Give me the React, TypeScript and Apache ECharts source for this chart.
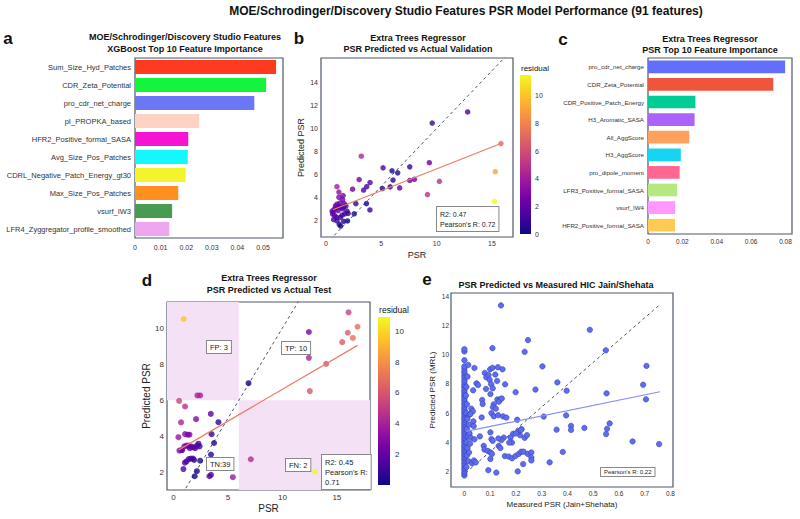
import React, { useEffect, useRef } from "react";
import * as echarts from "echarts";

// ---------- Panel a: XGBoost feature importance ----------
const featA = [
  "Sum_Size_Hyd_Patches",
  "CDR_Zeta_Potential",
  "pro_cdr_net_charge",
  "pI_PROPKA_based",
  "HFR2_Positive_formal_SASA",
  "Avg_Size_Pos_Patches",
  "CDRL_Negative_Patch_Energy_gt30",
  "Max_Size_Pos_Patches",
  "vsurf_IW3",
  "LFR4_Zyggregator_profile_smoothed",
];
const impA = [0.0551, 0.0512, 0.0466, 0.0251, 0.0208, 0.0206, 0.0198, 0.0169, 0.0145, 0.0134];
const colorsA = ["#ff3a1f", "#12f53c", "#6a78f8", "#ffd3c2", "#f514d2", "#15f7ff", "#f3f52c", "#ff8f1f", "#4a9b52", "#eea6ee"];
const ticksA = [0, 0.01, 0.02, 0.03, 0.04, 0.05];

// ---------- Panel c: Extra Trees feature importance ----------
const featC = [
  "pro_cdr_net_charge",
  "CDR_Zeta_Potential",
  "CDR_Positive_Patch_Energy",
  "H3_Aromatic_SASA",
  "All_AggScore",
  "H3_AggScore",
  "pro_dipole_moment",
  "LFR3_Positive_formal_SASA",
  "vsurf_IW4",
  "HFR2_Positive_formal_SASA",
];
const impC = [0.0798, 0.0729, 0.0276, 0.0271, 0.024, 0.0191, 0.0184, 0.017, 0.0158, 0.0157];
const colorsC = ["#636efa", "#ef553b", "#00cc96", "#ab63fa", "#ffa15a", "#19d3f3", "#ff6692", "#b6e880", "#ff97ff", "#fecb52"];
const ticksC = [0, 0.02, 0.04, 0.06, 0.08];

// ---------- Panel b: validation predicted vs actual ----------
const actualB = [
  12.8, 9.6, 15.81, 3.19, 5.16, 7.57, 5.97, 6.48, 9.34, 15.3, 3.0, 6.06, 7.57, 7.99, 10.25, 3.98, 3.68, 3.4, 2.4, 5.1,
  5.8, 6.66, 9.17, 15.22, 0.99, 1.17, 1.17, 1.55, 1.5, 1.65, 1.0, 2.7, 3.66, 3.97, 2.55, 2.0, 1.7, 1.95, 1.6, 1.2,
  1.32, 0.68, 0.6, 0.95, 1.3, 0.55, 0.75, 0.9, 1.05, 1.2, 1.35, 1.5, 1.8, 1.1, 0.8, 1.45, 0.65, 1.25, 0.85, 1.6,
  1.9, 1.0,
];
const predB = [
  11.43, 10.47, 8.7, 7.6, 6.6, 6.68, 6.34, 6.16, 7.04, 6.26, 5.58, 5.54, 5.5, 5.6, 5.43, 5.32, 4.96, 4.67, 4.75, 4.8,
  4.95, 4.86, 4.28, 3.7, 4.96, 4.5, 4.05, 4.2, 3.85, 3.5, 3.45, 3.5, 3.5, 2.95, 2.62, 2.65, 2.62, 2.0, 1.97, 1.7,
  1.56, 2.12, 2.6, 2.3, 2.3, 2.85, 3.0, 3.1, 3.2, 3.25, 3.15, 3.05, 3.3, 2.9, 2.45, 2.5, 2.75, 3.55, 3.3, 3.2,
  2.85, 2.0,
];
const trendB = [[0.63, 2.97], [15.81, 8.7]];
const diagB = [[0, 0], [17, 17]];
const ticksBx = [0, 5, 10, 15];
const ticksBy = [2, 4, 6, 8, 10, 12, 14];
const ticksBar = [0, 2, 4, 6, 8, 10];

// ---------- Panel d: test predicted vs actual ----------
const actualD = [
  0.95, 16.07, 16.9, 16.0, 16.47, 15.49, 12.43, 12.43, 14.02, 12.52, 6.89, 2.45, 2.2, 7.1, 13.0,
  0.52, 1.07, 3.43, 4.13, 2.08, 0.7, 1.07, 1.3, 1.47, 0.46, 3.5, 3.73, 2.3, 2.4, 0.55, 0.8, 1.0, 1.2, 1.4, 1.6,
  1.8, 2.0, 1.5, 3.45, 2.45, 1.4, 1.6, 1.8, 1.2, 1.05, 0.92, 2.15, 1.95, 3.3, 3.45, 5.45, 1.9, 0.75, 2.15,
];
const predD = [
  10.5, 10.87, 10.07, 9.74, 9.45, 9.22, 9.78, 8.35, 8.02, 6.51, 6.95, 6.27, 6.27, 2.74, 2.05,
  5.97, 5.66, 5.25, 4.79, 4.96, 4.78, 4.13, 4.1, 4.1, 3.96, 4.13, 3.64, 3.6, 3.45, 3.22, 3.25, 3.45, 3.5, 3.5, 3.45,
  3.4, 3.35, 3.35, 3.0, 2.66, 2.75, 2.78, 2.78, 2.62, 2.55, 2.2, 2.08, 1.8, 1.8, 1.88, 1.75, 2.7, 3.25, 3.5,
];
const trendD = [[0.49, 3.26], [16.9, 9.04]];
const diagD = [[0, 0], [18, 18]];
const thresholdD = 6;
const ticksDx = [0, 5, 10, 15];
const ticksDy = [2, 4, 6, 8, 10];
const ticksDbar = [2, 4, 6, 8, 10];

// ---------- Panel e: predicted vs measured (Jain/Shehata) ----------
const actualE = [
  // column at measured = 0
  0, 0, 0, 0, 0, 0, 0, 0, 0, 0, 0, 0, 0, 0, 0, 0, 0, 0, 0, 0, 0, 0, 0, 0, 0, 0, 0, 0, 0, 0,
  0, 0, 0, 0, 0, 0, 0, 0, 0, 0, 0, 0, 0, 0, 0, 0, 0, 0, 0, 0, 0, 0, 0, 0, 0, 0, 0, 0, 0, 0,
  0.008, 0.01, 0.012, 0.008, 0.015, 0.01, 0.018, 0.012, 0.008, 0.01, 0.006, 0.008, 0.012, 0.015, 0.02, 0.022, 0.02, 0.025, 0.018, 0.016,
  // scattered
  0.142, 0.247, 0.234, 0.109, 0.487, 0.549, 0.303, 0.707, 0.361, 0.694, 0.552, 0.276, 0.199, 0.397, 0.705, 0.308, 0.395, 0.414, 0.414, 0.358,
  0.466, 0.564, 0.554, 0.55, 0.653, 0.756, 0.382, 0.331, 0.207, 0.124, 0.093, 0.228,
  0.039, 0.079, 0.085, 0.094, 0.1, 0.109, 0.13, 0.148, 0.12, 0.098, 0.127, 0.158, 0.047, 0.053, 0.034, 0.084, 0.104, 0.11, 0.101,
  0.128, 0.14, 0.134, 0.145, 0.114, 0.111, 0.069, 0.071, 0.105, 0.114, 0.122, 0.067, 0.131, 0.15, 0.163, 0.027, 0.033, 0.023, 0.035, 0.036,
  0.205, 0.222, 0.216, 0.234, 0.243, 0.189, 0.179, 0.185, 0.174, 0.153, 0.144, 0.132, 0.101, 0.105, 0.11, 0.06, 0.039, 0.075, 0.078, 0.091,
  0.101, 0.107, 0.133, 0.14, 0.157, 0.172, 0.185, 0.198, 0.211, 0.221, 0.23, 0.246, 0.26, 0.26, 0.26, 0.101, 0.03, 0.037, 0.044, 0.21,
  0.22, 0.2,
];
const predE = [
  1.72, 1.86, 1.98, 2.14, 2.27, 2.43, 2.55, 2.71, 2.84, 2.96, 3.1, 3.21, 3.35, 3.44, 3.59, 3.71, 3.8, 3.96, 4.07, 4.22,
  4.3, 4.45, 4.56, 4.69, 4.81, 4.92, 5.06, 5.17, 5.31, 5.41, 5.56, 5.66, 5.79, 5.93, 6.04, 6.19, 6.31, 6.44, 6.59, 6.7,
  6.86, 6.99, 7.15, 7.27, 7.43, 7.55, 7.71, 7.84, 7.97, 8.13, 8.26, 8.43, 8.57, 8.74, 8.87, 9.06, 9.2, 9.62, 10.22, 10.38,
  2.3, 3.1, 3.6, 4.0, 4.4, 4.9, 5.2, 5.6, 6.0, 6.6, 7.2, 7.8, 8.5, 9.3, 4.6, 3.9, 5.9, 4.3, 3.3, 2.7,
  13.38, 11.0, 10.2, 10.45, 11.71, 10.3, 9.2, 9.23, 8.1, 7.94, 7.35, 7.61, 7.43, 7.53, 6.94, 5.76, 5.84, 5.12, 4.84, 4.86,
  4.98, 5.29, 4.92, 4.56, 4.05, 3.87, 3.33, 2.62, 2.0, 1.92, 2.08, 2.5,
  9.09, 8.75, 8.45, 8.6, 9.0, 9.1, 9.14, 9.0, 8.64, 8.28, 8.2, 7.97, 8.04, 7.92, 7.56, 7.65, 7.98, 7.7, 7.3,
  6.93, 6.95, 6.78, 7.0, 6.6, 6.4, 6.9, 6.62, 6.0, 5.78, 6.3, 5.7, 5.85, 5.77, 5.69, 6.3, 6.12, 5.93, 5.43, 5.1,
  5.54, 4.9, 4.48, 4.3, 4.48, 4.58, 4.33, 3.98, 3.98, 4.32, 4.15, 4.26, 4.68, 4.22, 4.1, 4.4, 4.2, 3.75, 3.5, 3.4,
  3.3, 3.2, 3.75, 3.6, 3.05, 3.02, 2.9, 3.05, 3.2, 3.35, 3.35, 3.2, 3.3, 2.95, 2.75, 2.85, 2.55, 2.75, 2.62, 4.75,
  4.85, 4.6,
];
const trendE = [[0.006, 4.74], [0.759, 7.46]];
const diagE = [[0.005, 1.9], [0.759, 13.43]];
const ticksEx = [0, 0.1, 0.2, 0.3, 0.4, 0.5, 0.6, 0.7, 0.8];
const ticksEy = [2, 4, 6, 8, 10, 12, 14];

const plasma = ["#0d0887", "#46039f", "#7201a8", "#9c179e", "#bd3786", "#d8576b", "#ed7953", "#fb9f3a", "#fdca26", "#f0f921"];

const FONT = '"Liberation Sans", Arial, sans-serif';

function buildOption() {
  const ptsB = actualB.map((x, i) => [x, predB[i], Math.abs(predB[i] - x)]);
  const ptsD = actualD.map((x, i) => [x, predD[i], Math.abs(predD[i] - x)]);
  const ptsE = actualE.map((x, i) => [x, predE[i]]);
  const maxResB = Math.max(...ptsB.map((p) => p[2]));
  const maxResD = Math.max(...ptsD.map((p) => p[2]));

  const frame = { show: true, borderColor: "#4f5968", borderWidth: 1.2, backgroundColor: "transparent" };
  const lbl = (size: number, margin: number, custom?: number[]) => ({
    fontSize: size,
    color: "#333",
    margin,
    fontFamily: FONT,
    ...(custom ? { customValues: custom } : {}),
  });
  const hidden = { axisLine: { show: false }, axisTick: { show: false }, splitLine: { show: false } };
  const grad = () =>
    new echarts.graphic.LinearGradient(0, 1, 0, 0, plasma.map((c, i) => ({ offset: i / (plasma.length - 1), color: c })));

  const dXMin = -0.59, dXMax = 18.04, dYMin = 1.04, dYMax = 11.44;

  const boxStyle = (size: number) => ({
    font: `${size}px ${FONT}`,
    fill: "#222",
    backgroundColor: "#fff",
    borderColor: "#888",
    borderWidth: 1,
    padding: [2, 3],
    align: "left",
    verticalAlign: "top",
  });
  const txt = (text: string, x: number, y: number, font: string, align = "center") => ({
    type: "text",
    x,
    y,
    silent: true,
    style: { text, font, fill: "#111", align, verticalAlign: "middle" },
  });
  const TB = `bold 9px ${FONT}`;
  const LET = `bold 17px ${FONT}`;

  return {
    animation: false,
    backgroundColor: "#fff",
    textStyle: { fontFamily: FONT },
    grid: [
      { left: 135, top: 58, width: 148, height: 180, ...frame },
      { left: 321, top: 58, width: 192, height: 179, ...frame },
      { left: 520, top: 75, width: 11, height: 159, show: false },
      { left: 648, top: 58, width: 144, height: 176, ...frame },
      { left: 167, top: 302, width: 203, height: 188, ...frame },
      { left: 378, top: 317, width: 12, height: 168, show: false },
      { left: 451, top: 293, width: 222, height: 194, ...frame },
    ],
    xAxis: [
      { gridIndex: 0, type: "value", min: 0, max: 0.0578, ...hidden, axisLabel: lbl(7, 6, ticksA) },
      {
        gridIndex: 1, type: "value", min: -0.45, max: 16.9, ...hidden, axisLabel: lbl(7, 3, ticksBx),
        name: "PSR", nameLocation: "middle", nameGap: 13, nameTextStyle: { fontSize: 9, color: "#222" },
      },
      { gridIndex: 2, type: "category", data: ["r"], show: false },
      { gridIndex: 3, type: "value", min: 0, max: 0.0838, ...hidden, axisLabel: lbl(6.5, 4, ticksC) },
      {
        gridIndex: 4, type: "value", min: dXMin, max: dXMax, ...hidden, axisLabel: lbl(8, 3, ticksDx),
        name: "PSR", nameLocation: "middle", nameGap: 13, nameTextStyle: { fontSize: 10, color: "#222" },
      },
      { gridIndex: 5, type: "category", data: ["r"], show: false },
      {
        gridIndex: 6, type: "value", min: -0.052, max: 0.81, ...hidden, axisLabel: lbl(6.5, 3, ticksEx),
        name: "Measured PSR (Jain+Shehata)", nameLocation: "middle", nameGap: 13, nameTextStyle: { fontSize: 8, color: "#222" },
      },
    ],
    yAxis: [
      { gridIndex: 0, type: "category", data: featA, inverse: true, ...hidden, axisLabel: lbl(7.5, 4) },
      {
        gridIndex: 1, type: "value", min: 0.61, max: 16.1, ...hidden, axisLabel: lbl(7, 3, ticksBy),
        name: "Predicted PSR", nameLocation: "middle", nameGap: 16, nameTextStyle: { fontSize: 9, color: "#222" },
      },
      {
        gridIndex: 2, type: "value", min: 0, max: maxResB, position: "right", ...hidden,
        axisLabel: lbl(7, 4, ticksBar),
      },
      { gridIndex: 3, type: "category", data: featC, inverse: true, ...hidden, axisLabel: lbl(6.2, 4) },
      {
        gridIndex: 4, type: "value", min: dYMin, max: dYMax, ...hidden, axisLabel: lbl(8, 3, ticksDy),
        name: "Predicted PSR", nameLocation: "middle", nameGap: 14, nameTextStyle: { fontSize: 10, color: "#222" },
      },
      {
        gridIndex: 5, type: "value", min: 0, max: maxResD, position: "right", ...hidden,
        axisLabel: lbl(8, 5, ticksDbar),
      },
      {
        gridIndex: 6, type: "value", min: 0.93, max: 14.23, ...hidden, axisLabel: lbl(6.5, 2, ticksEy),
        name: "Predicted PSR (MRL)", nameLocation: "middle", nameGap: 15, nameTextStyle: { fontSize: 8, color: "#222" },
      },
    ],
    visualMap: [
      { type: "continuous", show: false, seriesIndex: 2, dimension: 2, min: 0, max: maxResB, inRange: { color: plasma } },
      { type: "continuous", show: false, seriesIndex: 7, dimension: 2, min: 0, max: maxResD, inRange: { color: plasma } },
    ],
    series: [
      {
        type: "bar", xAxisIndex: 0, yAxisIndex: 0, barCategoryGap: "22%",
        data: impA.map((v, i) => ({ value: v, itemStyle: { color: colorsA[i] } })),
      },
      {
        type: "bar", xAxisIndex: 3, yAxisIndex: 3, barCategoryGap: "28%",
        data: impC.map((v, i) => ({ value: v, itemStyle: { color: colorsC[i] } })),
      },
      { type: "scatter", xAxisIndex: 1, yAxisIndex: 1, data: ptsB, symbolSize: 5.5, z: 4 },
      {
        type: "line", xAxisIndex: 1, yAxisIndex: 1, data: diagB, symbol: "none", silent: true, z: 3,
        lineStyle: { color: "#4a5468", width: 1, type: [3, 3] },
      },
      {
        type: "line", xAxisIndex: 1, yAxisIndex: 1, data: trendB, symbol: "none", silent: true, z: 5,
        lineStyle: { color: "#ea7c66", width: 1.2 },
      },
      { type: "bar", xAxisIndex: 2, yAxisIndex: 2, data: [maxResB], barWidth: "100%", itemStyle: { color: grad() }, silent: true },
      {
        type: "line", xAxisIndex: 4, yAxisIndex: 4, data: [], symbol: "none", z: 1, silent: true,
        markArea: {
          silent: true,
          itemStyle: { color: "#f5e1f6", opacity: 1 },
          label: { show: false },
          data: [
            [{ coord: [dXMin, thresholdD] }, { coord: [thresholdD, dYMax] }],
            [{ coord: [thresholdD, dYMin] }, { coord: [dXMax, thresholdD] }],
          ],
        },
      },
      { type: "scatter", xAxisIndex: 4, yAxisIndex: 4, data: ptsD, symbolSize: 6, z: 4 },
      {
        type: "line", xAxisIndex: 4, yAxisIndex: 4, data: diagD, symbol: "none", silent: true, z: 3,
        lineStyle: { color: "#4a5468", width: 1, type: [3, 3] },
      },
      {
        type: "line", xAxisIndex: 4, yAxisIndex: 4, data: trendD, symbol: "none", silent: true, z: 5,
        lineStyle: { color: "#ea7c66", width: 1.2 },
      },
      { type: "bar", xAxisIndex: 5, yAxisIndex: 5, data: [maxResD], barWidth: "100%", itemStyle: { color: grad() }, silent: true },
      {
        type: "scatter", xAxisIndex: 6, yAxisIndex: 6, data: ptsE, symbolSize: 5.5, z: 4,
        itemStyle: { color: "#5e6cf0", borderColor: "#2f3ba8", borderWidth: 0.5, opacity: 1 },
      },
      {
        type: "line", xAxisIndex: 6, yAxisIndex: 6, data: diagE, symbol: "none", silent: true, z: 3,
        lineStyle: { color: "#4a5468", width: 1, type: [3, 3] },
      },
      {
        type: "line", xAxisIndex: 6, yAxisIndex: 6, data: trendE, symbol: "none", silent: true, z: 5,
        lineStyle: { color: "#8090f5", width: 1.2 },
      },
    ],
    graphic: [
      txt("MOE/Schrodinger/Discovery Studio Features PSR Model Performance (91 features)", 466, 11, `bold 12px ${FONT}`),
      txt("a", 8, 38, LET),
      txt("b", 299, 38, LET),
      txt("c", 563, 39, LET),
      txt("d", 147, 280, LET),
      txt("e", 427, 279, LET),
      txt("MOE/Schrodinger/Discovery Studio Features", 185, 37, TB),
      txt("XGBoost Top 10 Feature Importance", 185, 49, TB),
      txt("Extra Trees Regressor", 418, 38, TB),
      txt("PSR Predicted vs Actual Validation", 418, 49, TB),
      txt("Extra Trees Regressor", 710, 39, TB),
      txt("PSR Top 10 Feature Importance", 710, 50, TB),
      txt("Extra Trees Regressor", 269, 278, TB),
      txt("PSR Predicted vs Actual Test", 269, 290, TB),
      txt("PSR Predicted vs Measured HIC Jain/Shehata", 556, 285, TB),
      txt("residual", 535, 68, `8px ${FONT}`),
      txt("residual", 394, 310, `8.5px ${FONT}`),
      { type: "text", x: 437, y: 207, silent: true, z: 10, style: { text: "R2: 0.47\nPearson's R: 0.72", lineHeight: 10, ...boxStyle(7) } },
      { type: "text", x: 207, y: 341, silent: true, z: 10, style: { text: "FP: 3", ...boxStyle(7.5) } },
      { type: "text", x: 282, y: 342, silent: true, z: 10, style: { text: "TP: 10", ...boxStyle(7.5) } },
      { type: "text", x: 207, y: 458, silent: true, z: 10, style: { text: "TN:39", ...boxStyle(7.5) } },
      { type: "text", x: 286, y: 459, silent: true, z: 10, style: { text: "FN: 2", ...boxStyle(7.5) } },
      { type: "text", x: 322, y: 455, silent: true, z: 10, style: { text: "R2: 0.45\nPearson's R:\n0.71", lineHeight: 10, ...boxStyle(7.5) } },
      { type: "text", x: 601, y: 468, silent: true, z: 10, style: { text: "Pearson's R: 0.22", ...boxStyle(6), padding: [1, 3] } },
    ],
  };
}

export default function App() {
  const ref = useRef<HTMLDivElement>(null);
  useEffect(() => {
    const chart = echarts.init(ref.current!, null, { renderer: "svg" });
    chart.setOption(buildOption() as any);
    return () => chart.dispose();
  }, []);
  return (
    <div
      ref={ref}
      style={{ position: "fixed", left: 0, top: 0, width: 800, height: 519, background: "#fff" }}
    />
  );
}
